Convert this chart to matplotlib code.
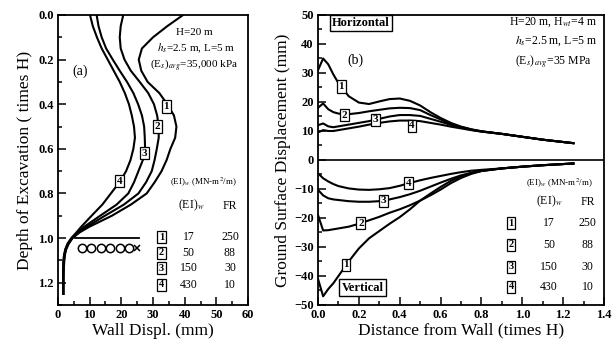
import matplotlib
matplotlib.use("Agg")
import matplotlib.pyplot as plt
from matplotlib.ticker import MultipleLocator

plt.rcParams['font.family'] = ['Liberation Serif', 'DejaVu Serif']
plt.rcParams['mathtext.fontset'] = 'stix'

# wall deflection profiles, panel (a)
depth = [0, 0.05, 0.1, 0.15, 0.2, 0.25, 0.3, 0.35, 0.4, 0.45, 0.5, 0.55, 0.6, 0.65,
         0.7, 0.75, 0.8, 0.85, 0.9, 0.95, 0.975, 1.0, 1.025, 1.05, 1.075, 1.1, 1.15, 1.2, 1.25]
wall_1 = [39.5, 34.5, 30, 26.5, 25.5, 26.3, 28.3, 32, 34.5, 36.6, 37.4, 37, 35.5, 34.3,
          32.7, 30.5, 28, 23, 17, 9.8, 6.8, 4.6, 3.4, 2.6, 2.2, 2.0, 1.8, 1.7, 1.7]
wall_2 = [20.6, 19.8, 19.5, 19.8, 21, 23, 25.8, 28.5, 30.3, 31.3, 31.8, 31.8, 31.2, 30.5,
          29.6, 27.8, 25.4, 20.8, 14.8, 9.0, 6.5, 4.5, 3.3, 2.5, 2.1, 1.9, 1.7, 1.7, 1.7]
wall_3 = [12.2, 12.8, 13.8, 15.2, 17.3, 19.5, 21.8, 23.8, 25.3, 26.5, 27.2, 27.4, 27.5, 26.8,
          25.4, 24, 22.2, 18.5, 13.3, 8.2, 6.2, 4.4, 3.2, 2.4, 2.0, 1.8, 1.7, 1.7, 1.7]
wall_4 = [10.1, 11, 12.3, 13.8, 15.7, 17.6, 19.5, 21.1, 22.4, 23.3, 24, 24.3, 23.8, 22.9,
          21.5, 19.4, 16.7, 14, 10.6, 7.3, 5.8, 4.2, 3.0, 2.3, 1.9, 1.7, 1.6, 1.6, 1.6]

# ground surface movements, panel (b)
dist = [0, 0.025, 0.05, 0.075, 0.1, 0.15, 0.2, 0.25, 0.3, 0.35, 0.4, 0.45, 0.5, 0.55,
        0.6, 0.65, 0.7, 0.75, 0.8, 0.9, 1.0, 1.1, 1.2, 1.25]
horiz_1 = [31, 35, 33, 29.5, 26.5, 22, 19.8, 19.3, 20.2, 21, 21.2, 20.4, 18.8, 16.5,
           14.5, 12.8, 11.5, 10.6, 9.9, 9.0, 8.0, 7.0, 6.2, 5.8]
horiz_2 = [18, 19.5, 17.5, 16.5, 16, 15.8, 16.2, 16.8, 17.3, 17.8, 18, 17.9, 17.2, 15.5,
           14, 12.5, 11.4, 10.5, 9.9, 9.0, 8.0, 7.0, 6.2, 5.8]
horiz_3 = [12, 12.6, 11.6, 11.3, 11.6, 12.2, 12.8, 13.4, 14.2, 15, 15.5, 15.5, 15.2, 14.2,
           13.2, 12.1, 11.2, 10.4, 9.8, 9.0, 8.0, 7.0, 6.2, 5.8]
horiz_4 = [9.5, 10.3, 10, 10, 10.3, 10.9, 11.5, 12.2, 12.8, 13.3, 13.6, 13.6, 13.4, 12.8,
           12.2, 11.5, 10.9, 10.3, 9.8, 9.0, 8.0, 7.0, 6.2, 5.8]
vert_1 = [-41, -47, -44.5, -42.5, -40, -35, -30.5, -27, -24.5, -22, -19.7, -17, -14, -11.6,
          -9.3, -7.2, -5.6, -4.5, -3.8, -2.9, -2.3, -1.8, -1.4, -1.2]
vert_2 = [-19, -24.3, -24.2, -23.9, -23.6, -23, -22, -20.8, -19.6, -18.2, -17, -15.6, -14, -12.2,
          -10.2, -8, -6.2, -4.8, -3.8, -2.9, -2.3, -1.8, -1.4, -1.2]
vert_3 = [-10.3, -12.2, -13.2, -13.6, -13.8, -14.2, -14.4, -14.4, -14.2, -13.6, -12.8, -11.8, -10.6, -9.2,
          -7.8, -6.5, -5.3, -4.4, -3.7, -2.9, -2.3, -1.8, -1.4, -1.2]
vert_4 = [-4.6, -6.3, -7.4, -8.3, -9, -9.8, -10.2, -10.3, -10.1, -9.7, -8.9, -7.9, -7, -6.2,
          -5.5, -4.8, -4.2, -3.7, -3.4, -2.9, -2.3, -1.8, -1.4, -1.2]

ei_w = [17, 50, 150, 430]
fr = [250, 88, 30, 10]
case_ids = ['1', '2', '3', '4']

fig = plt.figure(figsize=(6.13, 3.44), dpi=100)
ax1 = fig.add_axes([0.0946, 0.1134, 0.310, 0.843])
ax2 = fig.add_axes([0.5188, 0.1134, 0.4666, 0.843])

box = dict(boxstyle='square,pad=0.15', fc='white', ec='black', lw=0.9)
lw = 1.5


def style(ax):
    for s in ax.spines.values():
        s.set_linewidth(1.3)
    ax.tick_params(which='both', direction='in', width=1.1, top=False, right=False)
    ax.tick_params(which='major', length=6, labelsize=9, pad=3)
    ax.tick_params(which='minor', length=3)
    for t in ax.get_xticklabels() + ax.get_yticklabels():
        t.set_fontweight('bold')


# ---- panel (a)
for w in [wall_1, wall_2, wall_3, wall_4]:
    ax1.plot(w, depth, color='black', lw=lw)
ax1.set_xlim(0, 60)
ax1.set_ylim(1.3, 0)
ax1.xaxis.set_major_locator(MultipleLocator(10))
ax1.xaxis.set_minor_locator(MultipleLocator(5))
ax1.yaxis.set_major_locator(MultipleLocator(0.2))
ax1.yaxis.set_minor_locator(MultipleLocator(0.1))
ax1.set_yticks([0, 0.2, 0.4, 0.6, 0.8, 1.0, 1.2])
ax1.set_yticklabels(['0.0', '0.2', '0.4', '0.6', '0.8', '1.0', '1.2'])
ax1.set_xlabel('Wall Displ. (mm)', fontsize=12.5, labelpad=1)
ax1.set_ylabel('Depth of Excavation ( times H)', fontsize=12.5, labelpad=4)
style(ax1)

# excavation base and struts
ax1.plot([5.5, 25.5], [1.0, 1.0], color='black', lw=1.3)
ax1.plot([7.5, 10.5, 13.5, 16.5, 19.5, 22.5], [1.045] * 6, ls='none', marker='o',
         ms=6, mfc='none', mec='black', mew=1.1)
ax1.plot([25], [1.045], marker='x', ms=5, color='black', mew=1.1)

for lbl, (x, y) in zip(case_ids, [(34.2, 0.41), (31.5, 0.50), (27.4, 0.62), (19.5, 0.745)]):
    ax1.text(x, y, lbl, ha='center', va='center', fontsize=8, fontweight='bold', bbox=box)

ax1.text(43, 0.078, 'H=20 m', ha='center', va='center', fontsize=8)
ax1.text(43.5, 0.148, r'$h_s$=2.5 m, L=5 m', ha='center', va='center', fontsize=8)
ax1.text(43, 0.222, r'(E$_s$)$_{avg}$=35,000 kPa', ha='center', va='center', fontsize=8)
ax1.text(7, 0.25, '(a)', ha='center', va='center', fontsize=10)

ax1.text(46, 0.752, r'(EI)$_w$ (MN-m$^2$/m)', ha='center', va='center', fontsize=6.5)
ax1.text(42, 0.855, r'(EI)$_w$', ha='center', va='center', fontsize=8.5)
ax1.text(54.3, 0.855, 'FR', ha='center', va='center', fontsize=8.5)
for i, yy in enumerate([0.996, 1.065, 1.136, 1.21]):
    ax1.text(32.7, yy, case_ids[i], ha='center', va='center', fontsize=7.5, fontweight='bold', bbox=box)
    ax1.text(41.2, yy, str(ei_w[i]), ha='center', va='center', fontsize=8.5)
    ax1.text(54.3, yy, str(fr[i]), ha='center', va='center', fontsize=8.5)

# ---- panel (b)
for h in [horiz_1, horiz_2, horiz_3, horiz_4]:
    ax2.plot(dist, h, color='black', lw=lw)
for v in [vert_1, vert_2, vert_3, vert_4]:
    ax2.plot(dist, v, color='black', lw=lw)
ax2.axhline(0, color='black', lw=1.2)
ax2.set_xlim(0, 1.4)
ax2.set_ylim(-50, 50)
ax2.xaxis.set_major_locator(MultipleLocator(0.2))
ax2.xaxis.set_minor_locator(MultipleLocator(0.1))
ax2.yaxis.set_major_locator(MultipleLocator(10))
ax2.yaxis.set_minor_locator(MultipleLocator(5))
ax2.set_xticks([0, 0.2, 0.4, 0.6, 0.8, 1.0, 1.2, 1.4])
ax2.set_xticklabels(['0.0', '0.2', '0.4', '0.6', '0.8', '1.0', '1.2', '1.4'])
ax2.set_xlabel('Distance from Wall (times H)', fontsize=12.5, labelpad=1)
ax2.set_ylabel('Ground Surface Displacement (mm)', fontsize=12.5, labelpad=2)
style(ax2)

for lbl, (x, y) in zip(case_ids, [(0.114, 25.3), (0.13, 15.5), (0.28, 13.8), (0.46, 11.8)]):
    ax2.text(x, y, lbl, ha='center', va='center', fontsize=8, fontweight='bold', bbox=box)
for lbl, (x, y) in zip(case_ids, [(0.137, -36.2), (0.21, -21.8), (0.32, -14.1), (0.443, -8)]):
    ax2.text(x, y, lbl, ha='center', va='center', fontsize=8, fontweight='bold', bbox=box)

ax2.text(0.21, 47.2, 'Horizontal', ha='center', va='center', fontsize=9, fontweight='bold',
         bbox=dict(boxstyle='square,pad=0.15', fc='white', ec='black', lw=1))
ax2.text(0.22, -44, 'Vertical', ha='center', va='center', fontsize=9, fontweight='bold',
         bbox=dict(boxstyle='square,pad=0.2', fc='white', ec='black', lw=1))
ax2.text(0.185, 34.5, '(b)', ha='center', va='center', fontsize=10)
ax2.text(1.365, 47.5, r'H=20 m, H$_{wt}$=4 m', ha='right', va='center', fontsize=8.5)
ax2.text(1.365, 40.8, r'$h_s$=2.5 m, L=5 m', ha='right', va='center', fontsize=8.5)
ax2.text(1.15, 34, r'(E$_s$)$_{avg}$=35 MPa', ha='center', va='center', fontsize=8.5)

ax2.text(1.18, -8, r'(EI)$_w$ (MN-m$^2$/m)', ha='center', va='center', fontsize=6.5)
ax2.text(1.13, -14.4, r'(EI)$_w$', ha='center', va='center', fontsize=8.5)
ax2.text(1.32, -14.4, 'FR', ha='center', va='center', fontsize=8.5)
for i, yy in enumerate([-21.8, -29.3, -36.8, -43.7]):
    ax2.text(0.945, yy, case_ids[i], ha='center', va='center', fontsize=7.5, fontweight='bold', bbox=box)
    ax2.text(1.13, yy, str(ei_w[i]), ha='center', va='center', fontsize=8.5)
    ax2.text(1.32, yy, str(fr[i]), ha='center', va='center', fontsize=8.5)

fig.savefig('out.png', dpi=100)
